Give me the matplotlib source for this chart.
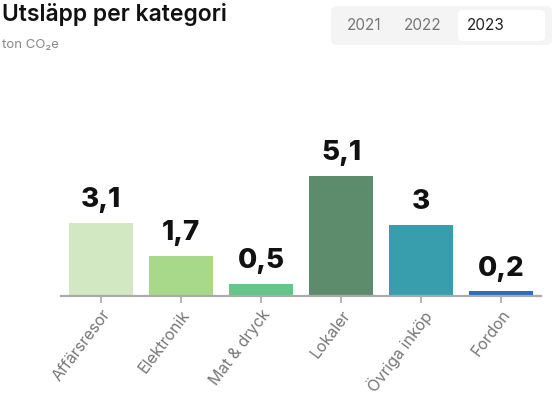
import matplotlib
matplotlib.use("Agg")
import matplotlib.pyplot as plt
from matplotlib.patches import FancyBboxPatch

plt.rcParams['font.family'] = ['Inter', 'DejaVu Sans']

# ─── data ─────────────────────────────────────────────────────────────
categories = ["Affärsresor", "Elektronik", "Mat & dryck", "Lokaler",
              "Övriga inköp", "Fordon"]
values = [3.1, 1.7, 0.5, 5.1, 3.0, 0.2]
colors = ["#d1e8c3", "#a8d889", "#66c68a", "#5c8c6c", "#389ead", "#2a6ebf"]
years = ["2021", "2022", "2023"]
selected_year = "2023"

W, H = 554, 399
fig = plt.figure(figsize=(W / 100, H / 100), dpi=100)

# plot area: baseline at y=296px, x from 61 to 541px
ax = fig.add_axes([61 / W, (H - 296) / H, 480 / W, 236 / H])
x = range(len(categories))
ax.bar(x, values, width=0.8, color=colors, zorder=2)
ax.set_xlim(-0.5, len(categories) - 0.5)
ax.set_ylim(0, 10)

for xi, v in zip(x, values):
    ax.annotate(f"{v:g}".replace('.', ','), (xi, v), xytext=(0, 7),
                textcoords='offset points', ha='center', va='bottom',
                fontsize=20, fontweight='heavy', color='#111111')

for side in ['top', 'right', 'left']:
    ax.spines[side].set_visible(False)
ax.spines['bottom'].set_color('#aaaaaa')
ax.spines['bottom'].set_linewidth(1.6)
ax.set_yticks([])
ax.set_xticks(list(x))
ax.set_xticklabels(categories, rotation=53, ha='right', rotation_mode='anchor',
                   fontsize=11.5, color='#777777')
ax.tick_params(axis='x', length=5, width=1.2, color='#aaaaaa', pad=3)

# title + subtitle
fig.text(2 / W, 1 - 15 / H, "Utsläpp per kategori", fontsize=16.5,
         fontweight='semibold', color='#111111', va='center', ha='left')
fig.text(2 / W, 1 - 45 / H, "ton CO₂e", fontsize=9.5, color='#888888',
         va='center', ha='left')

# year toggle
bg = FancyBboxPatch((331 / W, 1 - 45 / H), 221 / W, 39 / H,
                    boxstyle="round,pad=0,rounding_size=0.012",
                    transform=fig.transFigure, facecolor='#f4f4f4',
                    edgecolor='none')
fig.add_artist(bg)
sel = FancyBboxPatch((458 / W, 1 - 41 / H), 87 / W, 31 / H,
                     boxstyle="round,pad=0,rounding_size=0.01",
                     transform=fig.transFigure, facecolor='white',
                     edgecolor='none')
fig.add_artist(sel)
year_x = [364, 423, 486]
for yx, yr in zip(year_x, years):
    c = '#222222' if yr == selected_year else '#777777'
    fig.text(yx / W, 1 - 25 / H, yr, fontsize=11, color=c,
             ha='center', va='center')

fig.savefig("out.png", dpi=100)
